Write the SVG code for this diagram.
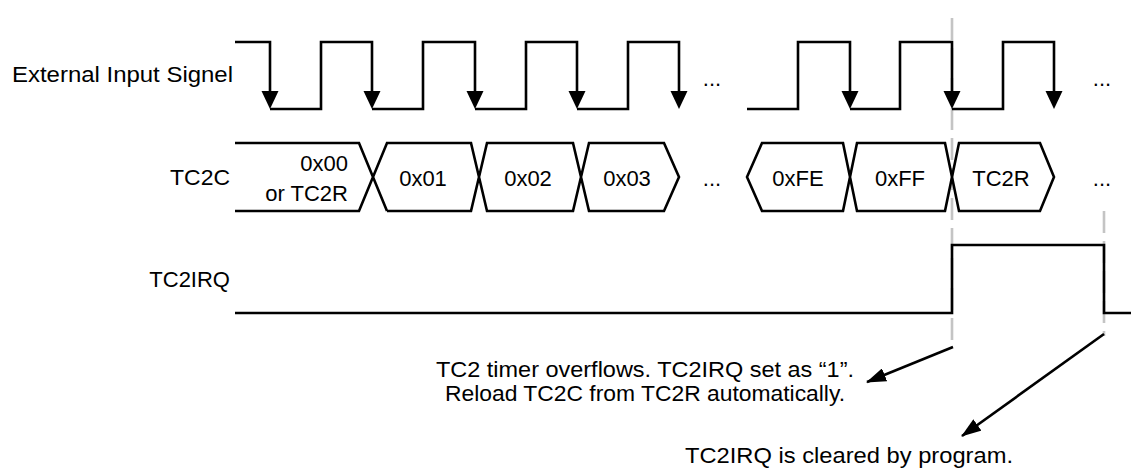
<svg xmlns="http://www.w3.org/2000/svg" xmlns:xlink="http://www.w3.org/1999/xlink" width="1131" height="473" viewBox="0 0 1131 473">
<style>
.t{font-family:"Liberation Sans",Arial,sans-serif;font-size:22px;fill:#000}
.w{fill:none;stroke:#000;stroke-width:2.6;stroke-linejoin:miter;stroke-linecap:butt}
.g{fill:none;stroke:#c4c4c4;stroke-width:2.6;stroke-dasharray:22 8}
.a{fill:none;stroke:#000;stroke-width:2.6}
</style>
<defs>
<path id="ah" d="M-8.5,-18 L8.5,-18 L0,0 z" fill="#000"/>
<marker id="m" viewBox="0 0 20 14" refX="19" refY="7" markerWidth="20" markerHeight="14" markerUnits="userSpaceOnUse" orient="auto">
<path d="M0,0 L20,7 L0,14 z" fill="#000"/>
</marker>
</defs>
<rect width="1131" height="473" fill="#fff"/>
<g id="guides">
<line class="g" x1="952" y1="18" x2="952" y2="340"/>
<line class="g" x1="1104" y1="211" x2="1104" y2="336"/>
</g>
<g id="labels">
<text class="t" x="12" y="82" textLength="221" lengthAdjust="spacingAndGlyphs">External Input Signel</text>
<text class="t" x="170" y="185" textLength="60" lengthAdjust="spacingAndGlyphs">TC2C</text>
<text class="t" x="230" y="287" text-anchor="end">TC2IRQ</text>
</g>
<g id="ext-signal">
<path class="w" d="M235,42 H270 V100 M270,109 H321 V42 H372 V100 M372,109 H423 V42 H475 V100 M475,109 H526 V42 H577 V100 M577,109 H628 V42 H679 V100"/>
<path class="w" d="M747,109 H798 V42 H850 V100 M850,109 H900 V42 H952 V100 M952,109 H1003 V42 H1054 V100"/>
<use xlink:href="#ah" x="270" y="109"/>
<use xlink:href="#ah" x="372" y="109"/>
<use xlink:href="#ah" x="475" y="109"/>
<use xlink:href="#ah" x="577" y="109"/>
<use xlink:href="#ah" x="679" y="109"/>
<use xlink:href="#ah" x="850" y="109"/>
<use xlink:href="#ah" x="952" y="109"/>
<use xlink:href="#ah" x="1054" y="109"/>
<text class="t" x="712" y="86" text-anchor="middle">...</text>
<text class="t" x="1102" y="86" text-anchor="middle">...</text>
</g>
<g id="tc2c">
<path class="w" d="M235,143 H359 L387,211 M235,211 H359 L387,143 H471 L487,211 H573 L589,143 H664 L679,177 L664,211 H589 L573,143 H487 L471,211 H387"/>
<path class="w" d="M762,143 L747,177 L762,211 H843 L857,143 H945 L959,211 H1040 L1054,177 L1040,143 H959 L945,211 H857 L843,143 Z"/>
<text class="t" x="348" y="171" text-anchor="end">0x00</text>
<text class="t" x="348" y="201" text-anchor="end">or TC2R</text>
<text class="t" x="423" y="186" text-anchor="middle">0x01</text>
<text class="t" x="528" y="186" text-anchor="middle">0x02</text>
<text class="t" x="627" y="186" text-anchor="middle">0x03</text>
<text class="t" x="712" y="186" text-anchor="middle">...</text>
<text class="t" x="798" y="186" text-anchor="middle">0xFE</text>
<text class="t" x="900" y="186" text-anchor="middle">0xFF</text>
<text class="t" x="1001" y="186" text-anchor="middle">TC2R</text>
<text class="t" x="1102" y="186" text-anchor="middle">...</text>
</g>
<g id="tc2irq">
<path class="w" d="M235,313 H952 V245 H1104 V313 H1131"/>
</g>
<g id="connectors">
<line class="a" x1="953" y1="347" x2="867" y2="382" marker-end="url(#m)"/>
<line class="a" x1="1104" y1="334" x2="962" y2="436" marker-end="url(#m)"/>
</g>
<g id="notes">
<text class="t" x="645" y="377" text-anchor="middle" textLength="418" lengthAdjust="spacingAndGlyphs">TC2 timer overflows. TC2IRQ set as “1”.</text>
<text class="t" x="645" y="401" text-anchor="middle" textLength="400" lengthAdjust="spacingAndGlyphs">Reload TC2C from TC2R automatically.</text>
<text class="t" x="849" y="463" text-anchor="middle" textLength="328" lengthAdjust="spacingAndGlyphs">TC2IRQ is cleared by program.</text>
</g>
</svg>
